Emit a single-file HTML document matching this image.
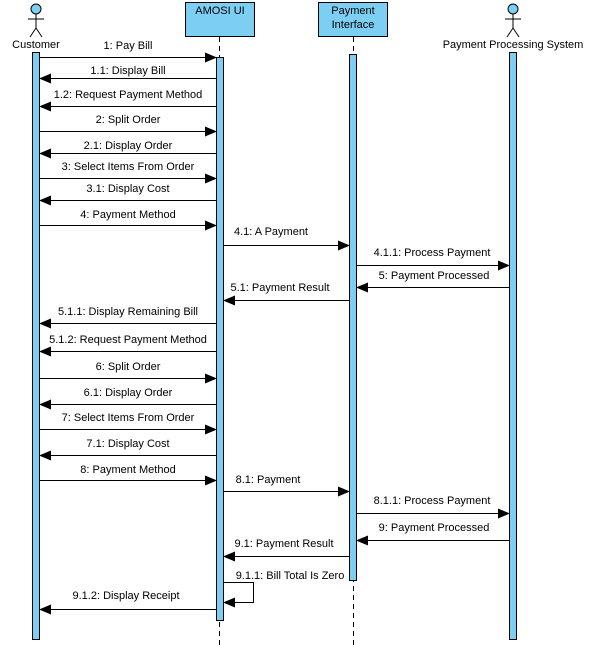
<!DOCTYPE html>
<html><head><meta charset="utf-8"><style>
html,body{margin:0;padding:0;background:#fff;}
svg{display:block;font-family:"Liberation Sans",Arial,sans-serif;font-size:11px;}
</style></head><body>
<svg width="593" height="645" viewBox="0 0 593 645" xmlns="http://www.w3.org/2000/svg">
<defs>
<marker id="a" markerWidth="12" markerHeight="10" refX="11" refY="5" orient="auto" markerUnits="userSpaceOnUse">
<path d="M0,0 L12,5 L0,10 z" fill="#000"/></marker>
</defs>
<!-- lifelines -->
<g stroke="#000" stroke-dasharray="5,4" stroke-width="1">
<line x1="219.5" y1="37" x2="219.5" y2="645"/>
<line x1="353.5" y1="37" x2="353.5" y2="645"/>
</g>
<!-- Customer actor -->
<g stroke="#000" fill="none">
<circle cx="36" cy="9" r="5" fill="#7ccff3"/>
<line x1="36" y1="14" x2="36" y2="28"/><line x1="28" y1="19" x2="44" y2="19"/>
<line x1="36" y1="28" x2="30" y2="37"/><line x1="36" y1="28" x2="42" y2="37"/>
</g>
<text x="36" y="48" text-anchor="middle">Customer</text>
<!-- PPS actor -->
<g stroke="#000" fill="none">
<circle cx="513" cy="9" r="5" fill="#7ccff3"/>
<line x1="513" y1="14" x2="513" y2="28"/><line x1="505" y1="19" x2="521" y2="19"/>
<line x1="513" y1="28" x2="507" y2="37"/><line x1="513" y1="28" x2="519" y2="37"/>
</g>
<text x="513" y="48" text-anchor="middle">Payment Processing System</text>
<!-- boxes -->
<rect x="185.5" y="2.5" width="69" height="34" fill="#7ccff3" stroke="#000"/>
<text x="220" y="14" text-anchor="middle">AMOSI UI</text>
<rect x="318.5" y="2.5" width="69" height="34" fill="#7ccff3" stroke="#000"/>
<text x="353" y="14" text-anchor="middle">Payment</text>
<text x="353" y="28" text-anchor="middle">Interface</text>
<!-- activations -->
<g fill="#7ccff3" stroke="#000">
<rect x="32.5" y="52.5" width="7" height="587"/>
<rect x="216.5" y="57.5" width="7" height="563"/>
<rect x="349.5" y="54.5" width="7" height="526"/>
<rect x="509.5" y="52.5" width="7" height="587"/>
</g>
<g stroke="#000" marker-end="url(#a)">
<line x1="40" y1="57.5" x2="216" y2="57.5"/>
<line x1="216" y1="78.5" x2="40" y2="78.5"/>
<line x1="216" y1="106.5" x2="40" y2="106.5"/>
<line x1="40" y1="131.5" x2="216" y2="131.5"/>
<line x1="216" y1="153.5" x2="40" y2="153.5"/>
<line x1="40" y1="178.5" x2="216" y2="178.5"/>
<line x1="216" y1="200.5" x2="40" y2="200.5"/>
<line x1="40" y1="225.5" x2="216" y2="225.5"/>
<line x1="224" y1="245.5" x2="349" y2="245.5"/>
<line x1="357" y1="265.5" x2="509" y2="265.5"/>
<line x1="509" y1="287.5" x2="357" y2="287.5"/>
<line x1="349" y1="300.5" x2="224" y2="300.5"/>
<line x1="216" y1="323.5" x2="40" y2="323.5"/>
<line x1="216" y1="351.5" x2="40" y2="351.5"/>
<line x1="40" y1="378.5" x2="216" y2="378.5"/>
<line x1="216" y1="404.5" x2="40" y2="404.5"/>
<line x1="40" y1="429.5" x2="216" y2="429.5"/>
<line x1="216" y1="455.5" x2="40" y2="455.5"/>
<line x1="40" y1="480.5" x2="216" y2="480.5"/>
<line x1="224" y1="491.5" x2="349" y2="491.5"/>
<line x1="357" y1="513.5" x2="509" y2="513.5"/>
<line x1="509" y1="540.5" x2="357" y2="540.5"/>
<line x1="349" y1="556.5" x2="224" y2="556.5"/>
<polyline fill="none" points="224,582.5 253.5,582.5 253.5,602.5 224,602.5"/>
<line x1="216" y1="609.5" x2="40" y2="609.5"/>
</g>
<g text-anchor="middle">
<text x="128" y="49">1: Pay Bill</text>
<text x="128" y="74">1.1: Display Bill</text>
<text x="128" y="98">1.2: Request Payment Method</text>
<text x="128" y="123">2: Split Order</text>
<text x="128" y="149">2.1: Display Order</text>
<text x="128" y="170">3: Select Items From Order</text>
<text x="128" y="192">3.1: Display Cost</text>
<text x="128" y="218">4: Payment Method</text>
<text x="271" y="235">4.1: A Payment</text>
<text x="432" y="256">4.1.1: Process Payment</text>
<text x="434" y="279">5: Payment Processed</text>
<text x="280" y="291">5.1: Payment Result</text>
<text x="128" y="315">5.1.1: Display Remaining Bill</text>
<text x="128" y="343">5.1.2: Request Payment Method</text>
<text x="128" y="370">6: Split Order</text>
<text x="128" y="396">6.1: Display Order</text>
<text x="128" y="421">7: Select Items From Order</text>
<text x="128" y="447">7.1: Display Cost</text>
<text x="128" y="473">8: Payment Method</text>
<text x="268" y="483">8.1: Payment</text>
<text x="432" y="504">8.1.1: Process Payment</text>
<text x="434" y="531">9: Payment Processed</text>
<text x="284" y="547">9.1: Payment Result</text>
<text x="290" y="579">9.1.1: Bill Total Is Zero</text>
<text x="126" y="599">9.1.2: Display Receipt</text>
</g>
</svg>
</body></html>
